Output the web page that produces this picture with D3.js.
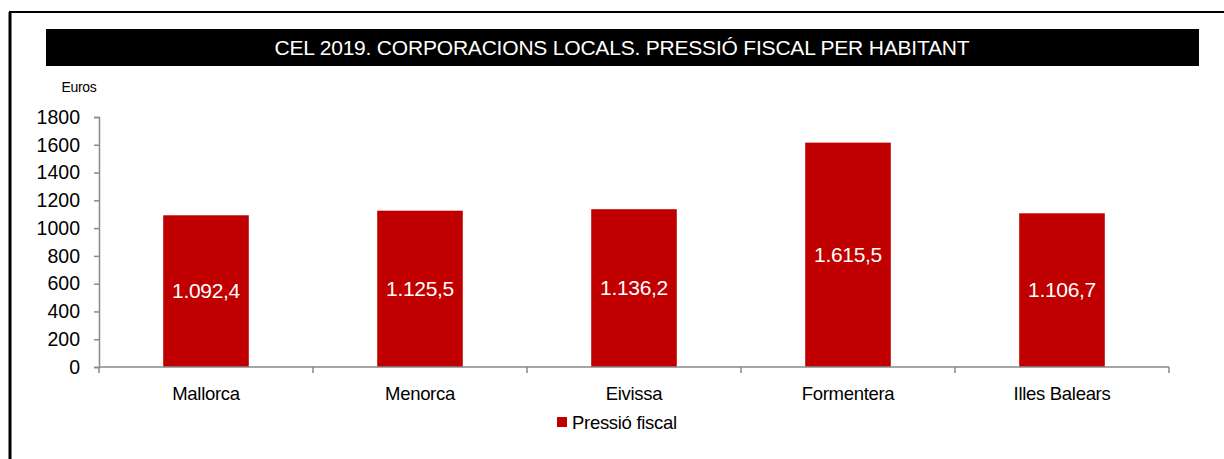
<!DOCTYPE html>
<html>
<head>
<meta charset="utf-8">
<script src="https://cdn.jsdelivr.net/npm/d3@7"></script>
<style>
  body { margin: 0; background: #fff; }
  svg { display: block; font-family: "Liberation Sans", Arial, sans-serif; }
</style>
</head>
<body>
<script>
  const categories = ['Mallorca', 'Menorca', 'Eivissa', 'Formentera', 'Illes Balears']
  const values = [1092.4, 1125.5, 1136.2, 1615.5, 1106.7]
  const valueLabels = ['1.092,4', '1.125,5', '1.136,2', '1.615,5', '1.106,7']
  const yTicks = [0, 200, 400, 600, 800, 1000, 1200, 1400, 1600, 1800]
  const seriesName = 'Pressió fiscal'
  const title = 'CEL 2019.  CORPORACIONS LOCALS. PRESSIÓ FISCAL PER HABITANT'

  const width = 1224, height = 459
  const svg = d3.select('body').append('svg')
    .attr('width', width)
    .attr('height', height)

  // frame lines (left and top)
  svg.append('line').attr('x1', 10).attr('y1', 12).attr('x2', 10).attr('y2', height)
    .attr('stroke', '#000').attr('stroke-width', 3)
  svg.append('line').attr('x1', 9).attr('y1', 12).attr('x2', width).attr('y2', 12)
    .attr('stroke', '#000').attr('stroke-width', 2)

  // title bar
  svg.append('rect').attr('x', 46).attr('y', 29).attr('width', 1153).attr('height', 37).attr('fill', '#000')
  svg.append('text').attr('x', 622).attr('y', 55)
    .attr('text-anchor', 'middle').attr('fill', '#fff')
    .attr('font-size', 21).attr('letter-spacing', -0.2)
    .text(title)

  const x = d3.scaleBand().domain(categories).range([99, 1169]).paddingInner(0.6).paddingOuter(0.3)
  const y = d3.scaleLinear().domain([0, 1800]).range([367, 117])

  svg.append('text').attr('x', 79).attr('y', 92).attr('text-anchor', 'middle')
    .attr('font-size', 14).attr('letter-spacing', -0.3).text('Euros')

  // y axis
  const yAxis = svg.append('g').attr('transform', 'translate(99,0)')
    .call(d3.axisLeft(y).tickValues(yTicks).tickSize(5).tickPadding(14).tickFormat(d3.format('d')))
  yAxis.select('.domain').attr('stroke', '#898989').attr('stroke-width', 1.5)
  yAxis.selectAll('.tick line').attr('stroke', '#898989').attr('stroke-width', 1.5)
  yAxis.selectAll('.tick text').attr('fill', '#000').attr('font-size', 19.5)
    .attr('font-family', '"Liberation Sans", Arial, sans-serif')

  // bars
  svg.append('g').selectAll('rect').data(values).join('rect')
    .attr('x', (d, i) => x(categories[i]))
    .attr('y', d => y(d))
    .attr('width', x.bandwidth())
    .attr('height', d => y(0) - y(d))
    .attr('fill', '#C00000')

  svg.append('g').selectAll('text').data(values).join('text')
    .attr('x', (d, i) => x(categories[i]) + x.bandwidth() / 2)
    .attr('y', d => (y(d) + y(0)) / 2 + 7)
    .attr('text-anchor', 'middle').attr('fill', '#fff').attr('font-size', 21)
    .attr('letter-spacing', -0.3)
    .text((d, i) => valueLabels[i])

  // x axis
  const step = (1169 - 99) / categories.length
  const xg = svg.append('g')
  xg.append('line').attr('x1', 99).attr('x2', 1169).attr('y1', 367).attr('y2', 367)
    .attr('stroke', '#898989').attr('stroke-width', 1.5)
  xg.selectAll('line.t').data(d3.range(categories.length + 1)).join('line').attr('class', 't')
    .attr('x1', i => 99 + i * step).attr('x2', i => 99 + i * step)
    .attr('y1', 367).attr('y2', 373)
    .attr('stroke', '#898989').attr('stroke-width', 1.5)
  xg.selectAll('text').data(categories).join('text')
    .attr('x', d => x(d) + x.bandwidth() / 2)
    .attr('y', 400)
    .attr('text-anchor', 'middle').attr('font-size', 18.5).attr('letter-spacing', -0.3)
    .text(d => d)

  // legend
  svg.append('rect').attr('x', 557).attr('y', 417).attr('width', 10).attr('height', 10).attr('fill', '#C00000')
  svg.append('text').attr('x', 572).attr('y', 429).attr('font-size', 18.5).attr('letter-spacing', -0.3).text(seriesName)
</script>
</body>
</html>
